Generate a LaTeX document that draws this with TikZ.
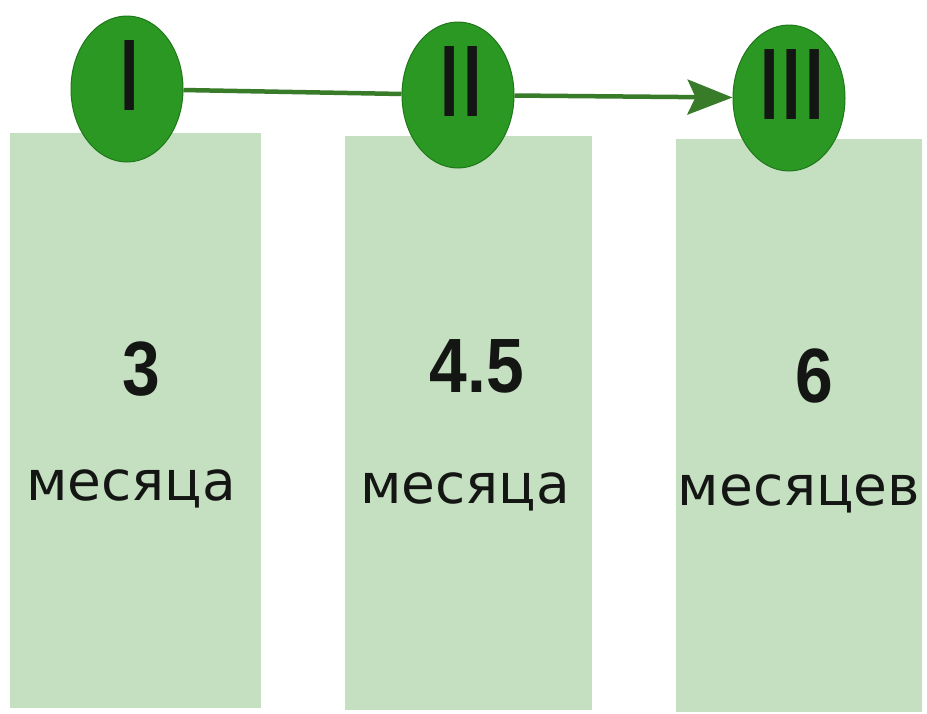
\documentclass[tikz,border=0pt]{standalone}
\usepackage{fontspec}
\setmainfont{DejaVu Sans}
\newfontfamily\digitfont{Liberation Sans}
\usetikzlibrary{arrows.meta,shapes.geometric}
\definecolor{boxgreen}{RGB}{197,224,192}
\definecolor{ballgreen}{RGB}{44,152,36}
\definecolor{balledge}{RGB}{30,120,25}
\definecolor{linegreen}{RGB}{56,124,42}
\definecolor{inkblack}{RGB}{20,22,20}
\tikzset{
  panel/.style={fill=boxgreen, draw=none},
  ball/.style={ellipse, fill=ballgreen, draw=balledge, line width=1pt,
    minimum width=112pt, minimum height=146pt, inner sep=0pt,
    text=inkblack, font=\fontsize{96}{96}\selectfont},
  numlabel/.style={anchor=base, text=inkblack, inner sep=0pt,
    font=\digitfont\bfseries\fontsize{77}{77}\selectfont},
  wordlabel/.style={anchor=base, text=inkblack, inner sep=0pt,
    font=\fontsize{55}{55}\selectfont},
  link/.style={draw=linegreen, line width=4.5pt},
  linkarrow/.style={link, -{Stealth[length=45pt, width=35pt, inset=8pt]}}
}
\begin{document}
\begin{tikzpicture}[x=1pt,y=-1pt]
\useasboundingbox (0,0) rectangle (927,713);
\fill[white] (0,0) rectangle (927,713);
% panels
\path[panel] (10,133) rectangle (261,708);
\path[panel] (345,136) rectangle (592,710);
\path[panel] (676,139) rectangle (922,712);
% balls
\node[ball] (b1) at (127,89) {\hspace*{6pt}\raisebox{26pt}{I}};
\node[ball] (b2) at (458,95) {\hspace*{6pt}\raisebox{26pt}{I\kern-6pt I}};
\node[ball] (b3) at (789,98) {\hspace*{6pt}\raisebox{26pt}{I\kern-6pt I\kern-6pt I}};
% connectors
\draw[link] (b1) -- (b2);
\draw[linkarrow] (b2) -- (b3);
% labels
\node[numlabel] (n1) at (141,395) {\scalebox{0.88}[1]{3}};
\node[wordlabel] (w1) at (131,500) {месяца};
\node[numlabel] (n2) at (477,392) {\scalebox{0.88}[1]{4.5}};
\node[wordlabel] (w2) at (465,503) {месяца};
\node[numlabel] (n3) at (814,402) {\scalebox{0.88}[1]{6}};
\node[wordlabel] (w3) at (799,505) {месяцев};
\end{tikzpicture}
\end{document}
